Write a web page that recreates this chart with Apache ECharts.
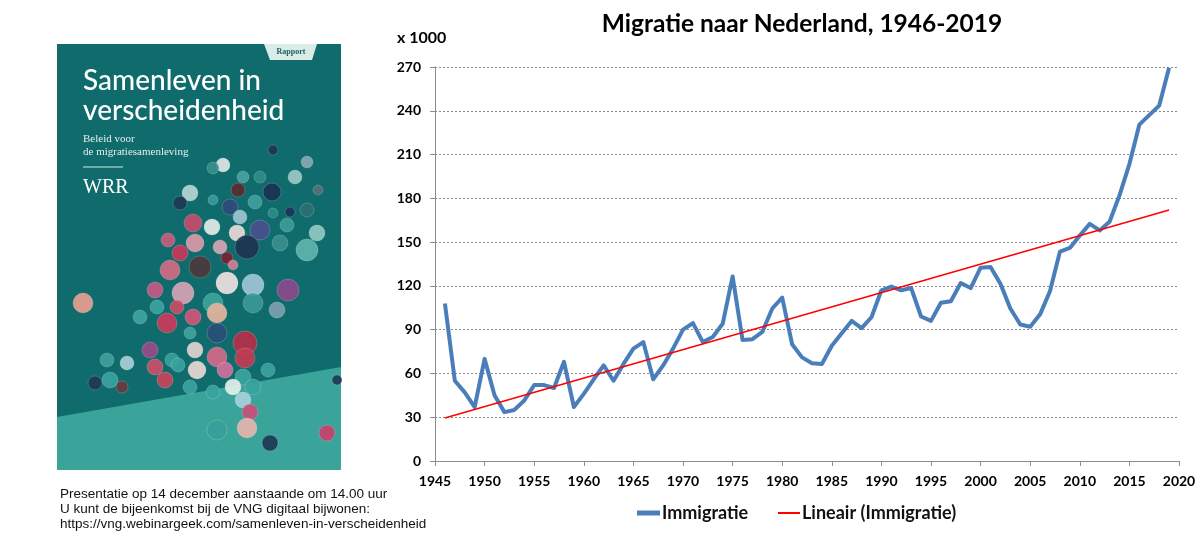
<!DOCTYPE html>
<html>
<head>
<meta charset="utf-8">
<script src="https://cdn.jsdelivr.net/npm/echarts@6/dist/echarts.min.js"></script>
<style>
html,body{margin:0;padding:0;background:#fff;}
#c{width:1200px;height:559px;}
</style>
</head>
<body>
<div id="c"></div>
<script>
// ---- data ----
const years = [1946,1947,1948,1949,1950,1951,1952,1953,1954,1955,1956,1957,1958,1959,1960,1961,1962,1963,1964,1965,1966,1967,1968,1969,1970,1971,1972,1973,1974,1975,1976,1977,1978,1979,1980,1981,1982,1983,1984,1985,1986,1987,1988,1989,1990,1991,1992,1993,1994,1995,1996,1997,1998,1999,2000,2001,2002,2003,2004,2005,2006,2007,2008,2009,2010,2011,2012,2013,2014,2015,2016,2017,2018,2019];
const immigratie = [108,55,47,37,70,45,33.5,35,41.5,52,52,50,68,37,46,56,65.5,55,66.5,77,81.5,56,65.5,77,90,94.5,81.5,85,94,126.5,83,83.5,88.5,104.5,112,80,71,67,66.5,79,87.5,96,91,98.5,117,119.5,117,118.5,99,96,108.5,109.5,122,118.5,132.5,133,121.5,104.5,93.5,92,100.5,116.5,143.5,146,154.5,162.5,158,164,182,203.5,230.5,237,243.5,269.5];
const trendYears = [1946, 2019];
const trendValues = [29.5, 172];
const yTicks = [0,30,60,90,120,150,180,210,240,270];
const xTicks = [1945,1950,1955,1960,1965,1970,1975,1980,1985,1990,1995,2000,2005,2010,2015,2020];
const titleText = 'Migratie naar Nederland, 1946-2019';
const unitText = 'x 1000';
const seriesNames = ['Immigratie', 'Lineair (Immigratie)'];
const noteLines = [
  'Presentatie op 14 december aanstaande om 14.00 uur',
  'U kunt de bijeenkomst bij de VNG digitaal bijwonen:',
  'https://vng.webinargeek.com/samenleven-in-verscheidenheid'
];

// ---- decorative book cover (picture in reference) ----
// marbles: [x, y, r, fill]
const marbles = [
  [273,150,5,'#1d3554'],[307,162,6,'#8aa7b5'],[223,165,7,'#dfe7e4'],[213,168,6,'#3a8f8f'],
  [243,177,6,'#4aa3a0'],[260,177,6,'#2f8c8b'],[295,177,7,'#9cc9c6'],[318,190,5,'#56707a'],
  [190,193,8,'#b9d6d2'],[180,203,7,'#1d3a57'],[238,190,7,'#5a2a30'],[272,192,9,'#1c3152'],
  [213,200,5,'#3a9a98'],[230,207,8,'#2f4b7a'],[255,202,7,'#3e9f9c'],[273,213,5,'#2b8a88'],
  [290,212,5,'#1b3457'],[307,210,7,'#2b6f72'],[240,217,7,'#9cc6d0'],[193,223,9,'#c44c6c'],
  [212,227,8,'#e3ece8'],[237,233,8,'#eadad8'],[260,230,10,'#4a4f8e'],[287,225,7,'#3c9c97'],
  [317,233,8,'#8fcac4'],[168,240,7,'#c85c7c'],[195,243,9,'#d99aa8'],[180,253,8,'#c8395a'],
  [220,247,7,'#d8a4b4'],[247,247,12,'#1d3450'],[280,243,8,'#3a8e8e'],[307,250,11,'#5fb5ad'],
  [200,267,11,'#4a3a3c'],[170,270,10,'#d46a84'],[227,258,6,'#7a2332'],[233,265,5,'#d37e92'],
  [227,283,11,'#f0e1e2'],[253,285,11,'#9fc6d6'],[288,290,11,'#8c4a8c'],[155,290,8,'#c45a86'],
  [183,293,11,'#d6a3b6'],[213,303,10,'#3ea39c'],[157,307,7,'#3da3a0'],[177,307,7,'#c84e66'],
  [217,313,10,'#e4b49c'],[253,303,10,'#3b9995'],[277,310,8,'#7e9fae'],[83,303,10,'#e8a090'],
  [140,317,7,'#3ea39e'],[167,323,10,'#c83c5c'],[193,317,8,'#d1557a'],[217,333,10,'#2a4f7a'],
  [245,343,12,'#b4304a'],[190,333,6,'#3ea39e'],[150,350,8,'#9a4a8a'],[172,360,7,'#3a9e9a'],
  [195,350,8,'#e2d4cf'],[217,357,10,'#d46a8c'],[245,358,10,'#c33a52'],[107,360,7,'#3d9e9a'],
  [127,363,7,'#a8cfd8'],[155,367,8,'#c8506a'],[178,365,7,'#3aa39e'],[197,370,9,'#e9d8d6'],
  [225,370,8,'#d0709a'],[243,377,8,'#3aa49e'],[268,370,7,'#3aa39e'],[95,383,7,'#1d3a57'],
  [110,380,8,'#3aa39e'],[122,387,6,'#6a3a3c'],[165,380,8,'#c8455e'],[190,387,7,'#3aa39e'],
  [213,392,7,'#3aa39e'],[233,387,8,'#e3efec'],[253,387,8,'#3aa39e'],[243,400,8,'#a8d0dc'],
  [250,412,8,'#c8507a'],[247,428,10,'#e4b4ac'],[217,430,10,'#3a9e9a'],[270,443,8,'#1d3a57'],
  [327,433,8,'#c8416a'],[337,380,5,'#1d3a57']
];

const chart = echarts.init(document.getElementById('c'), null, {renderer: 'canvas'});

const coverGraphics = [
  {type:'rect', shape:{x:57,y:44,width:284,height:426}, style:{fill:'#0f6b6c'}, z:1},
  {type:'polygon', shape:{points:[[57,417],[341,367],[341,470],[57,470]]}, style:{fill:'#3aa39a'}, z:2},
  {type:'polygon', shape:{points:[[264,44],[317,44],[312,60],[270,60]]}, style:{fill:'#d9ece8'}, z:3},
  {type:'text', x:291, y:52, style:{text:'Rapport', fill:'#1f5f5f', font:'bold 8px "Liberation Serif", serif', textAlign:'center', textVerticalAlign:'middle'}, z:4},
  {type:'text', x:83, y:81, style:{text:'Samenleven in', fill:'#ffffff', font:'500 28px Lato, sans-serif', textVerticalAlign:'middle'}, z:4},
  {type:'text', x:83, y:111, style:{text:'verscheidenheid', fill:'#ffffff', font:'500 28px Lato, sans-serif', textVerticalAlign:'middle'}, z:4},
  {type:'text', x:83, y:139, style:{text:'Beleid voor', fill:'#e6f0ee', font:'11px "Liberation Serif", serif', textVerticalAlign:'middle'}, z:4},
  {type:'text', x:83, y:152, style:{text:'de migratiesamenleving', fill:'#e6f0ee', font:'11px "Liberation Serif", serif', textVerticalAlign:'middle'}, z:4},
  {type:'line', shape:{x1:83,y1:167,x2:123,y2:167}, style:{stroke:'#d8e8e6', lineWidth:1}, z:4},
  {type:'text', x:83, y:188, style:{text:'WRR', fill:'#ffffff', font:'20px "Liberation Serif", serif', textVerticalAlign:'middle'}, z:4}
];
marbles.forEach(function(m){
  coverGraphics.push({type:'circle', shape:{cx:m[0], cy:m[1], r:m[2]}, style:{fill:m[3], opacity:0.92, stroke:'rgba(255,255,255,0.25)', lineWidth:0.8}, z:5});
});
noteLines.forEach(function(t, i){
  coverGraphics.push({type:'text', x:60, y:494 + i*15, style:{text:t, fill:'#111', font:'13.5px "Liberation Sans", Arial, sans-serif', textVerticalAlign:'middle'}, z:4});
});
coverGraphics.push({type:'text', x:397, y:38, style:{text:unitText, fill:'#000', font:'bold 16px Lato, sans-serif', textVerticalAlign:'middle'}, z:4});

const option = {
  backgroundColor: '#ffffff',
  animation: false,
  title: {
    text: titleText,
    left: 797, top: 7, textAlign: 'center',
    textStyle: {fontFamily: 'Lato, sans-serif', fontWeight: 'bold', fontSize: 24.5, color: '#000'}
  },
  legend: [
    {data: [seriesNames[0]], left: 632, top: 499, itemWidth: 23, itemHeight: 5, itemGap: 2,
     icon: 'rect', textStyle: {fontFamily: 'Lato, sans-serif', fontSize: 18, fontWeight: 'bold', color: '#111', padding:[0,0,0,-3]}},
    {data: [seriesNames[1]], left: 773, top: 499, itemWidth: 22, itemHeight: 2, itemGap: 2,
     icon: 'rect', textStyle: {fontFamily: 'Lato, sans-serif', fontSize: 18, fontWeight: 'bold', color: '#111', padding:[0,0,0,-3]}}
  ],
  grid: {left: 435, right: 21, top: 67, bottom: 98, containLabel: false},
  xAxis: {
    type: 'value', min: xTicks[0], max: xTicks[xTicks.length-1], interval: 5,
    axisLine: {show: true, lineStyle: {color: '#8c8c8c', width: 1}},
    axisTick: {show: true, length: 5, lineStyle: {color: '#8c8c8c'}},
    splitLine: {show: false},
    axisLabel: {fontFamily: 'Lato, sans-serif', fontWeight: 'bold', fontSize: 14, color: '#000', margin: 13,
      formatter: function(v){ return String(v); }}
  },
  yAxis: {
    type: 'value', min: yTicks[0], max: yTicks[yTicks.length-1], interval: 30,
    axisLine: {show: true, lineStyle: {color: '#8c8c8c', width: 1}},
    axisTick: {show: true, length: 5, lineStyle: {color: '#8c8c8c'}},
    splitLine: {show: true, lineStyle: {color: '#8a8a8a', width: 1, type: [2, 2]}},
    axisLabel: {fontFamily: 'Lato, sans-serif', fontWeight: 'bold', fontSize: 14, color: '#000', margin: 14}
  },
  graphic: coverGraphics,
  series: [
    {
      name: seriesNames[0], type: 'line', showSymbol: false, symbol: 'none',
      data: years.map(function(y, i){ return [y, immigratie[i]]; }),
      lineStyle: {color: '#4a7ebb', width: 4, join: 'round'},
      itemStyle: {color: '#4a7ebb'}, z: 3
    },
    {
      name: seriesNames[1], type: 'line', showSymbol: false, symbol: 'none',
      data: trendYears.map(function(y, i){ return [y, trendValues[i]]; }),
      lineStyle: {color: '#ff0000', width: 1.5},
      itemStyle: {color: '#ff0000'}, z: 4
    }
  ]
};
chart.setOption(option);
</script>
</body>
</html>
